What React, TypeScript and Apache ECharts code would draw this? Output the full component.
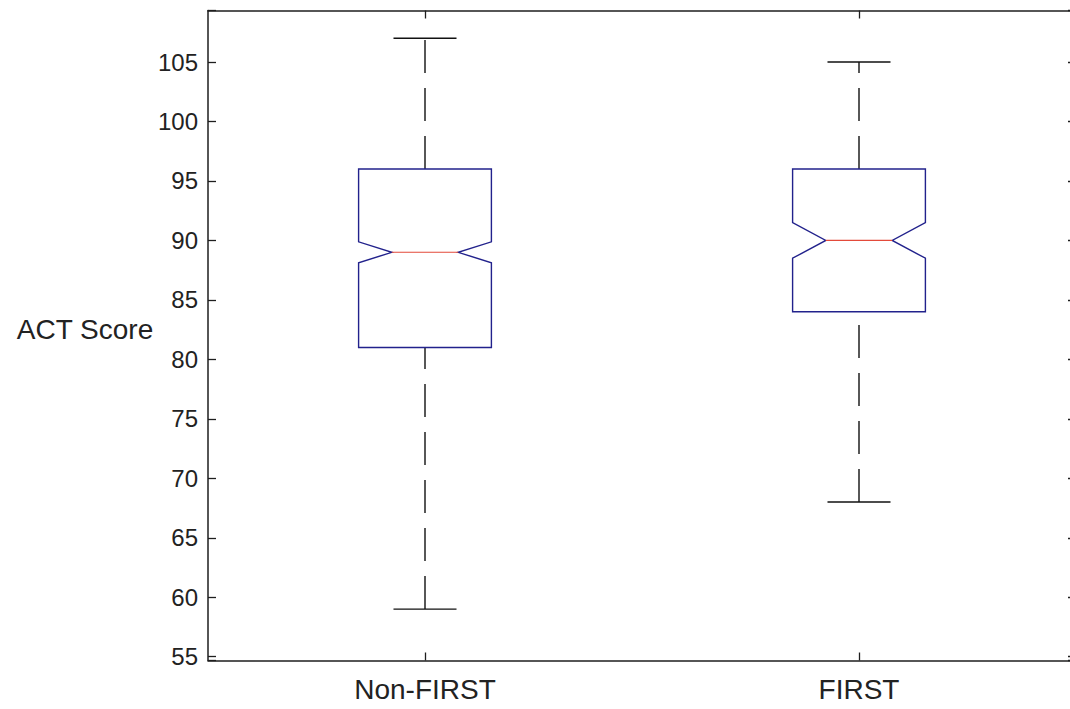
import React, { useEffect, useRef } from "react";
import * as echarts from "echarts";

// ---- Data ----
const categories = ["Non-FIRST", "FIRST"];
const lowerWhisker = [59, 68];
const q1Values = [81, 84];
const notchLow = [88.12, 88.5];
const medians = [89, 90];
const notchHigh = [89.88, 91.5];
const q3Values = [96, 96];
const upperWhisker = [107, 105];
const yTickLabels = [55, 60, 65, 70, 75, 80, 85, 90, 95, 100, 105];
const yAxisTitle = "ACT Score";
const yMin = 54.68;
const yMax = 109.33;

const FONT = '"Liberation Sans", Arial, sans-serif';
const FRAME = "#1e1e1e";
const TEXT = "#222222";
const BOX = "#22228c";
const MEDIAN = "#e34a3a";

export default function App() {
  const ref = useRef<HTMLDivElement>(null);

  useEffect(() => {
    document.body.style.margin = "0";
    document.body.style.overflow = "hidden";
    document.documentElement.style.overflow = "hidden";
    const chart = echarts.init(ref.current as HTMLDivElement, null, { renderer: "svg" });

    const rows = categories.map((_, i) => [
      i,
      lowerWhisker[i],
      q1Values[i],
      notchLow[i],
      medians[i],
      notchHigh[i],
      q3Values[i],
      upperWhisker[i],
    ]);

    const renderItem = (params: any, api: any) => {
      const i = api.value(0);
      const yOf = (v: number) => api.coord([i, v])[1];
      const x = api.coord([i, api.value(4)])[0];
      const band = api.size([1, 0])[0];
      const hw = band * 0.153;
      const nw = hw * 0.5;
      const cw = band * 0.0726;
      const yLw = yOf(api.value(1));
      const yQ1 = yOf(api.value(2));
      const yNl = yOf(api.value(3));
      const yMed = yOf(api.value(4));
      const yNh = yOf(api.value(5));
      const yQ3 = yOf(api.value(6));
      const yUw = yOf(api.value(7));
      const blackLine = { stroke: "#111111", lineWidth: 1.4, fill: null };
      const dashLine = { stroke: "#111111", lineWidth: 1.4, fill: null, lineDash: [33, 15] };
      return {
        type: "group",
        children: [
          { type: "line", shape: { x1: x, y1: yQ3, x2: x, y2: yUw }, style: dashLine },
          { type: "line", shape: { x1: x, y1: yLw, x2: x, y2: yQ1 }, style: dashLine },
          { type: "line", shape: { x1: x - cw, y1: yUw, x2: x + cw, y2: yUw }, style: blackLine },
          { type: "line", shape: { x1: x - cw, y1: yLw, x2: x + cw, y2: yLw }, style: blackLine },
          {
            type: "polygon",
            shape: {
              points: [
                [x - hw, yQ3],
                [x + hw, yQ3],
                [x + hw, yNh],
                [x + nw, yMed],
                [x + hw, yNl],
                [x + hw, yQ1],
                [x - hw, yQ1],
                [x - hw, yNl],
                [x - nw, yMed],
                [x - hw, yNh],
              ],
            },
            style: { stroke: BOX, lineWidth: 1.4, fill: null },
          },
          {
            type: "line",
            shape: { x1: x - nw, y1: yMed, x2: x + nw, y2: yMed },
            style: { stroke: MEDIAN, lineWidth: 1.1, fill: null },
          },
        ],
      };
    };

    const yLabelFormatter = (v: number) =>
      yTickLabels.some((t) => Math.abs(t - v) < 1e-6) ? String(Math.round(v)) : "";

    const axisLineStyle = { color: FRAME, width: 1.5 };
    const tickStyle = { color: FRAME, width: 1.3 };

    const option: any = {
      animation: false,
      backgroundColor: "#ffffff",
      grid: { left: 208, top: 10.5, width: 868, height: 650, containLabel: false },
      xAxis: [
        {
          type: "category",
          data: categories,
          position: "bottom",
          boundaryGap: true,
          axisLine: { show: true, lineStyle: axisLineStyle },
          axisTick: { show: true, inside: true, alignWithLabel: true, length: 8, lineStyle: tickStyle },
          axisLabel: { color: TEXT, fontSize: 28, fontFamily: FONT, margin: 15 },
          splitLine: { show: false },
        },
        {
          type: "category",
          data: categories,
          position: "top",
          boundaryGap: true,
          axisLine: { show: true, lineStyle: axisLineStyle },
          axisTick: { show: true, inside: true, alignWithLabel: true, length: 8, lineStyle: tickStyle },
          axisLabel: { show: false },
          splitLine: { show: false },
        },
      ],
      yAxis: [
        {
          type: "value",
          min: yMin,
          max: yMax,
          splitNumber: 11,
          position: "left",
          axisLine: { show: true, lineStyle: axisLineStyle },
          axisTick: { show: true, inside: true, length: 8, lineStyle: tickStyle },
          axisLabel: { color: TEXT, fontSize: 24, fontFamily: FONT, margin: 10, formatter: yLabelFormatter },
          splitLine: { show: false },
        },
        {
          type: "value",
          min: yMin,
          max: yMax,
          splitNumber: 11,
          position: "right",
          axisLine: { show: true, lineStyle: axisLineStyle },
          axisTick: { show: true, inside: true, length: 8, lineStyle: tickStyle },
          axisLabel: { show: false },
          splitLine: { show: false },
        },
      ],
      graphic: [
        {
          type: "text",
          x: 85,
          y: 329,
          style: {
            text: yAxisTitle,
            font: `28px ${FONT}`,
            fill: TEXT,
            align: "center",
            verticalAlign: "middle",
          },
        },
      ],
      series: [
        {
          type: "custom",
          xAxisIndex: 0,
          yAxisIndex: 0,
          renderItem,
          encode: { x: 0, y: [1, 2, 3, 4, 5, 6, 7] },
          data: rows,
          z: 5,
        },
      ],
    };

    chart.setOption(option);
    return () => chart.dispose();
  }, []);

  return <div ref={ref} style={{ width: 1082, height: 709, background: "#ffffff" }} />;
}
